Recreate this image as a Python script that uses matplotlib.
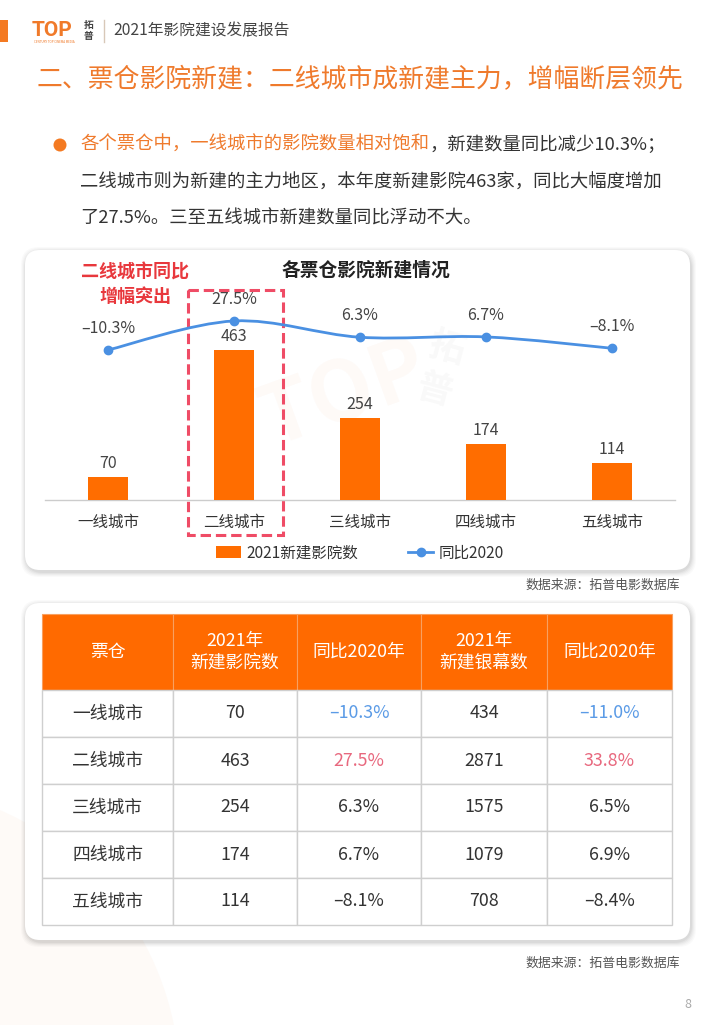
import numpy as np
import matplotlib
matplotlib.use("Agg")
import matplotlib.pyplot as plt
from matplotlib.patches import FancyBboxPatch, Rectangle, Circle, PathPatch
from matplotlib.path import Path
from matplotlib.lines import Line2D

plt.rcParams['font.family'] = ['Noto Sans CJK SC', 'DejaVu Sans']

# ---------------- data ----------------
categories = ['一线城市', '二线城市', '三线城市', '四线城市', '五线城市']
new_cinemas = [70, 463, 254, 174, 114]
cinema_yoy = [-10.3, 27.5, 6.3, 6.7, -8.1]
new_screens = [434, 2871, 1575, 1079, 708]
screen_yoy = [-11.0, 33.8, 6.5, 6.9, -8.4]
table_headers = ['票仓', '2021年\n新建影院数', '同比2020年', '2021年\n新建银幕数', '同比2020年']
bar_label = '2021新建影院数'
line_label = '同比2020'

ORANGE = '#ff6d00'
TITLE_OR = '#ef7a2c'
BLUE = '#4a90e2'
DARK = '#333333'
# per-row colour for the percentage cells of the table (style, not data)
row_pct_colors = ['#5b9be6', '#e8687e', DARK, DARK, DARK]

W, H = 710, 1025
fig = plt.figure(figsize=(W / 100, H / 100), dpi=100)
fig.patch.set_facecolor('white')

bg = fig.add_axes([0, 0, 1, 1], zorder=0)
bg.set_xlim(0, W)
bg.set_ylim(H, 0)
bg.axis('off')

def fmt(v):
    return f"{v:.1f}%".replace('-', '–')

# pale decorative circle bottom-left
bg.add_patch(Circle((-120, 1085), 300, facecolor='#fefaf7', edgecolor='none', zorder=0))

# header
bg.add_patch(Rectangle((0, 20), 8, 22, facecolor='#f47a22', edgecolor='none'))
bg.text(32, 31, 'TOP', fontsize=15, fontweight='bold', color='#f07a2a', va='center', ha='left',
        family=['Roboto', 'DejaVu Sans'])
bg.text(34, 42, 'CENTURY TOP CINEMA MEDIA', fontsize=2.2, color='#f07a2a', va='center', ha='left')
bg.text(89, 25, '拓', fontsize=7, fontweight='bold', color='#444444', va='center', ha='center')
bg.text(89, 36, '普', fontsize=7, fontweight='bold', color='#444444', va='center', ha='center')
bg.plot([104, 104], [20, 42], color='#d8c8b8', lw=1)
bg.text(113, 31, '2021年影院建设发展报告', fontsize=11.3, color='#444444', va='center', ha='left')

# title
bg.text(37, 80, '二、票仓影院新建：二线城市成新建主力，增幅断层领先', fontsize=18.6,
        color=TITLE_OR, va='center', ha='left')

# bullet paragraph
bg.add_patch(Circle((60, 145), 6.5, facecolor='#f47a22', edgecolor='none'))
t1 = bg.text(80, 145, '各个票仓中，一线城市的影院数量相对饱和', fontsize=13.2, color=TITLE_OR,
             va='center', ha='left')
fig.canvas.draw()
ext = t1.get_window_extent(fig.canvas.get_renderer())
bg.text(ext.x1, 145, '，新建数量同比减少10.3%；', fontsize=13.2, color=DARK, va='center', ha='left')
bg.text(80, 183, '二线城市则为新建的主力地区，本年度新建影院463家，同比大幅度增加', fontsize=13.2,
        color=DARK, va='center', ha='left')
bg.text(80, 219, '了27.5%。三至五线城市新建数量同比浮动不大。', fontsize=13.2, color=DARK,
        va='center', ha='left')

# cards with soft shadow
def card(x0, y0, x1, y1):
    for i, a in enumerate([0.018, 0.022, 0.028, 0.035, 0.045]):
        g = 6 - i
        bg.add_patch(FancyBboxPatch((x0 - g + 2, y0 - g + 3), (x1 - x0) + 2 * g - 2, (y1 - y0) + 2 * g - 2,
                                    boxstyle='round,pad=0,rounding_size=18', facecolor='#000000',
                                    alpha=a, edgecolor='none', zorder=1))
    bg.add_patch(FancyBboxPatch((x0, y0), x1 - x0, y1 - y0, boxstyle='round,pad=0,rounding_size=15',
                                facecolor='white', edgecolor='none', zorder=2))

card(25, 250, 690, 570)
card(25, 603, 690, 940)

# watermark (very faint)
bg.text(345, 395, 'TOP', fontsize=60, fontweight='bold', color='#f07a2a', alpha=0.04,
        ha='center', va='center', rotation=20, zorder=3)
bg.text(440, 370, '拓\n普', fontsize=26, fontweight='bold', color='#888888', alpha=0.05,
        ha='center', va='center', rotation=-15, zorder=3)
bg.text(330, 800, 'TOP', fontsize=60, fontweight='bold', color='#f07a2a', alpha=0.035,
        ha='center', va='center', rotation=20, zorder=3)
bg.text(510, 760, '拓\n普', fontsize=26, fontweight='bold', color='#888888', alpha=0.045,
        ha='center', va='center', rotation=-15, zorder=3)

# ---------------- chart ----------------
ax_l, ax_r, ax_top, ax_bot = 45, 675, 255, 500
ax = fig.add_axes([ax_l / W, 1 - ax_bot / H, (ax_r - ax_l) / W, (ax_bot - ax_top) / H], zorder=5)
ax.patch.set_alpha(0)
x = np.arange(len(categories))
ax.set_xlim(-0.5, len(categories) - 0.5)
ax.set_ylim(0, 756)
bars = ax.bar(x, new_cinemas, width=0.317, color=ORANGE, zorder=3, label=bar_label)
for xi, v in zip(x, new_cinemas):
    ax.annotate(str(v), (xi, v), xytext=(0, 3.5), textcoords='offset points', ha='center',
                va='bottom', fontsize=11.5, color='#444444')
for s in ['top', 'right', 'left']:
    ax.spines[s].set_visible(False)
ax.spines['bottom'].set_color('#cccccc')
ax.spines['bottom'].set_linewidth(1)
ax.set_yticks([])
ax.set_xticks(x)
ax.set_xticklabels(categories, fontsize=11.2, color=DARK)
ax.tick_params(axis='x', length=0, pad=10)

ax2 = ax.twinx()
ax2.set_ylim(-205.9, 113.5)
ax2.axis('off')
# smooth curve (Catmull-Rom -> cubic Bezier) through the data points
pts = np.column_stack([x, cinema_yoy]).astype(float)
verts = [tuple(pts[0])]
codes = [Path.MOVETO]
n = len(pts)
for i in range(n - 1):
    p0 = pts[i - 1] if i > 0 else pts[i]
    p1, p2 = pts[i], pts[i + 1]
    p3 = pts[i + 2] if i + 2 < n else pts[i + 1]
    c1 = p1 + (p2 - p0) / 6.0
    c2 = p2 - (p3 - p1) / 6.0
    verts += [tuple(c1), tuple(c2), tuple(p2)]
    codes += [Path.CURVE4] * 3
ax2.add_patch(PathPatch(Path(verts, codes), facecolor='none', edgecolor=BLUE, lw=2.0, zorder=4))
ax2.plot(x, cinema_yoy, 'o', color=BLUE, markersize=6, zorder=5)
for xi, v in zip(x, cinema_yoy):
    ax2.annotate(fmt(v), (xi, v), xytext=(0, 15.5), textcoords='offset points', ha='center',
                 va='center', fontsize=11.5, color='#444444')

# annotation + dashed box
bg.text(135, 272, '二线城市同比', fontsize=13, fontweight='bold', color='#e8383d', ha='center',
        va='center', zorder=6)
bg.text(135, 296, '增幅突出', fontsize=13, fontweight='bold', color='#e8383d', ha='center',
        va='center', zorder=6)
bg.add_patch(Rectangle((188, 290), 95, 245, facecolor='none', edgecolor='#ef4c66', lw=2.2,
                       linestyle=(0, (3.4, 1.6)), zorder=6))
bg.text(366, 270, '各票仓影院新建情况', fontsize=13.5, fontweight='bold', color='#222222',
        ha='center', va='center', zorder=6)

line_handle = Line2D([], [], color=BLUE, lw=2.0, marker='o', markersize=6)
fig.legend([bars, line_handle], [bar_label, line_label], loc='center',
           bbox_to_anchor=(360 / W, 1 - 553 / H), ncol=2, frameon=False, fontsize=11.2,
           handlelength=1.6, handleheight=0.75, handletextpad=0.35, columnspacing=3.2,
           labelcolor=DARK)

bg.text(680, 585, '数据来源：拓普电影数据库', fontsize=9.3, color='#555555', ha='right', va='center')

# ---------------- table ----------------
col_edges = [42, 173, 297, 421, 547, 672]
head_top, head_bot = 614, 690
row_h = 47
nrows = len(categories)
grid_c = '#cfcfcf'
for j in range(len(table_headers)):
    bg.add_patch(Rectangle((col_edges[j], head_top), col_edges[j + 1] - col_edges[j], head_bot - head_top,
                           facecolor='#ff6a00', edgecolor='#f8a060', lw=0.8, zorder=4))
    cx = (col_edges[j] + col_edges[j + 1]) / 2
    bg.text(cx, (head_top + head_bot) / 2, table_headers[j], fontsize=12.8, color='white',
            ha='center', va='center', linespacing=1.25, zorder=5)

for i in range(nrows):
    y0 = head_bot + i * row_h
    cy = y0 + row_h / 2
    cells = [categories[i], str(new_cinemas[i]), fmt(cinema_yoy[i]), str(new_screens[i]), fmt(screen_yoy[i])]
    colors = [DARK, DARK, row_pct_colors[i], DARK, row_pct_colors[i]]
    for j in range(len(cells)):
        bg.add_patch(Rectangle((col_edges[j], y0), col_edges[j + 1] - col_edges[j], row_h,
                               facecolor='white', edgecolor=grid_c, lw=1.0, zorder=4))
        cx = (col_edges[j] + col_edges[j + 1]) / 2
        bg.text(cx, cy, cells[j], fontsize=12.8, color=colors[j], ha='center', va='center', zorder=5)

bg.text(680, 963, '数据来源：拓普电影数据库', fontsize=9.3, color='#555555', ha='right', va='center')
bg.text(688, 1005, '8', fontsize=9, color='#aaaaaa', ha='center', va='center')

fig.savefig('out.png', dpi=100)
